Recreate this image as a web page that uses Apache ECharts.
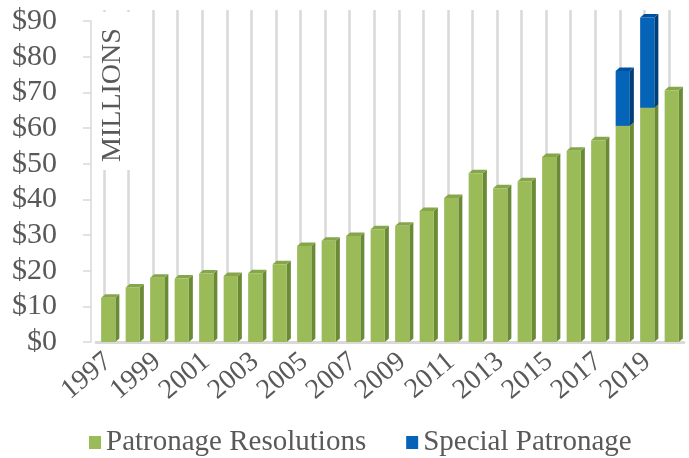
<!DOCTYPE html>
<html><head><meta charset="utf-8">
<script src="https://cdn.jsdelivr.net/npm/echarts@6/dist/echarts.min.js"></script>
<style>html,body{margin:0;padding:0;background:#fff}#c{width:689px;height:458px}</style>
</head><body><div id="c"></div>
<script>
const years = ['1997','1998','1999','2000','2001','2002','2003','2004','2005','2006','2007','2008','2009','2010','2011','2012','2013','2014','2015','2016','2017','2018','2019','2020'];
const patronage = [12.4,15.3,18.0,17.8,19.2,18.5,19.3,21.8,26.9,28.4,29.7,31.6,32.6,36.7,40.4,47.3,43.1,45.1,51.9,53.6,56.6,60.6,65.7,70.6];
const special = [0,0,0,0,0,0,0,0,0,0,0,0,0,0,0,0,0,0,0,0,0,15.4,25.3,0];
const seriesNames = ['Patronage Resolutions','Special Patronage'];
const yMin = 0, yMax = 90, yStep = 10;

const FONT = "'Liberation Serif','Times New Roman',serif";
const TXT = '#595959';

function render3D(front, side, top) {
  return function (params, api) {
    const cat = api.value(0), lo = api.value(1), hi = api.value(2);
    if (hi - lo <= 0) return;
    const a = api.coord([cat, lo]), b = api.coord([cat, hi]);
    const bw = api.size([1, 0])[0] * 0.58;
    const x0 = a[0] - bw / 2, x1 = a[0] + bw / 2;
    const dx = 4, dy = 3.5;
    return {
      type: 'group', children: [
        {type: 'polygon', shape: {points: [[x1, b[1]], [x1 + dx, b[1] - dy], [x1 + dx, a[1] - dy], [x1, a[1]]]}, style: {fill: side}},
        {type: 'polygon', shape: {points: [[x0, b[1]], [x0 + dx, b[1] - dy], [x1 + dx, b[1] - dy], [x1, b[1]]]}, style: {fill: top}},
        {type: 'rect', shape: {x: x0, y: b[1], width: bw, height: a[1] - b[1]}, style: {fill: front}}
      ]
    };
  };
}

const greenData = years.map((y, i) => [i, 0, patronage[i]]);
const blueData = years.map((y, i) => [i, patronage[i], patronage[i] + special[i]]);

const chart = echarts.init(document.getElementById('c'), null, {renderer: 'canvas'});
chart.setOption({
  animation: false,
  backgroundColor: '#fff',
  grid: [
    {left: 96, right: 5, top: 21, bottom: 116},
    {left: 104, right: 20, top: 10, bottom: 120}
  ],
  xAxis: [
    {type: 'category', gridIndex: 0, data: years,
     axisLine: {show: true, lineStyle: {color: '#D9D9D9', width: 3}},
     axisTick: {show: false},
     axisLabel: {interval: 1, rotate: 40, margin: 16, color: TXT, fontFamily: FONT, fontSize: 28}},
    {type: 'category', gridIndex: 1, data: years, boundaryGap: false,
     axisLine: {show: false}, axisTick: {show: false}, axisLabel: {show: false, interval: 0},
     splitLine: {show: true, interval: 0, lineStyle: {color: '#D9D9D9', width: 2.5}}}
  ],
  yAxis: [
    {type: 'value', gridIndex: 0, min: yMin, max: yMax, interval: yStep, offset: 5,
     axisLine: {show: true, lineStyle: {color: '#D9D9D9', width: 1.5}},
     axisTick: {show: true, length: 8, lineStyle: {color: '#D9D9D9', width: 1.5}},
     splitLine: {show: false},
     axisLabel: {margin: 34, color: TXT, fontFamily: FONT, fontSize: 30, formatter: v => '$' + v}},
    {type: 'value', gridIndex: 1, show: false, min: 0, max: 1, splitLine: {show: false}}
  ],
  legend: {
    data: seriesNames, left: 84, top: 423, itemGap: 40, itemWidth: 12, itemHeight: 13,
    icon: 'rect',
    textStyle: {color: TXT, fontFamily: FONT, fontSize: 29}
  },
  graphic: [
    {type: 'rect', z: 100, shape: {x: 95, y: 12, width: 37, height: 158}, style: {fill: '#fff'}},
    {type: 'text', z: 101, x: 113, y: 95, rotation: Math.PI / 2,
     style: {text: 'MILLIONS', fill: TXT, font: '28px ' + FONT, textAlign: 'center', textVerticalAlign: 'middle'}}
  ],
  series: [
    {name: seriesNames[0], type: 'custom', xAxisIndex: 0, yAxisIndex: 0, data: greenData,
     encode: {x: 0, y: [1, 2]}, itemStyle: {color: '#9BBB59'},
     renderItem: render3D('#9BBB59', '#6B8A36', '#86A64B')},
    {name: seriesNames[1], type: 'custom', xAxisIndex: 0, yAxisIndex: 0, data: blueData,
     encode: {x: 0, y: [1, 2]}, itemStyle: {color: '#0563B8'},
     renderItem: render3D('#0563B8', '#003E78', '#0050A0')}
  ]
});
</script></body></html>
